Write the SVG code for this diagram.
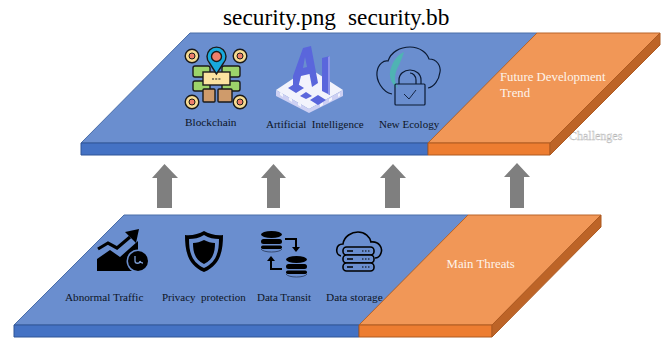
<svg xmlns="http://www.w3.org/2000/svg" width="664" height="340" viewBox="0 0 664 340">
<style>
text{font-family:"Liberation Serif","Times New Roman",serif}
.lab{font-size:11px;fill:#0d1526}
.wl{font-size:12.800px;fill:#fdf3ea}
.bt{fill:#6a8ecf;stroke:#4a6ea8;stroke-width:1}
.bf{fill:#4472c4;stroke:#2f5597;stroke-width:1}
.ot{fill:#f19757;stroke:#b9652a;stroke-width:1}
.of{fill:#ed7d31;stroke:#ae5a21;stroke-width:1}
.os{fill:#bd6427;stroke:#ae5a21;stroke-width:1}
.arr{fill:#7f7f7f}
.k{fill:#000}
.ln{fill:none;stroke:#0b1a33;stroke-width:1.2}
.kl{fill:none;stroke:#000;stroke-width:1.6}
.ic{stroke:#1a1a1a;stroke-width:1.4}
</style>
<rect width="664" height="340" fill="#fff"/>
<text x="223" y="24.500" font-size="23.300" fill="#000">security.png</text>
<text x="348" y="24.500" font-size="23.300" fill="#000">security.bb</text>

<g id="connectors">
<path class="arr" d="M164.500 164L178 178H172V208H157V178H152Z"/>
<path class="arr" d="M273.500 164L286 178H280V208H267V178H261Z"/>
<path class="arr" d="M393 164L406 178H400V208H385V178H380Z"/>
<path class="arr" d="M517 163L530 177H524V208H510V177H504Z"/>
</g>

<g id="top-plate">
<path class="bt" d="M81 143L190 33H537L428 143Z"/>
<path class="bf" d="M81 143H428V155H81Z"/>
<text x="569" y="139.500" font-size="12" fill="#efefef" stroke="#b5b5b5" stroke-width=".35">Challenges</text>
<path class="ot" d="M428 143L537 33H660L550 143Z"/>
<path class="of" d="M428 143H550V155H428Z"/>
<path class="os" d="M550 143L660 33V45L550 155Z"/>
<text class="wl" x="500" y="81">Future Development</text>
<text class="wl" x="500" y="97">Trend</text>
</g>

<g id="blockchain">
<g fill="#f7dc92" stroke="#1a1a1a" stroke-width="1.4">
<circle cx="192" cy="56" r="6.800"/><circle cx="240" cy="56" r="6.800"/><circle cx="192" cy="102" r="6.800"/><circle cx="240" cy="102" r="6.800"/>
</g>
<g fill="#ef7f6b" stroke="#1a1a1a" stroke-width="1">
<circle cx="192" cy="56" r="3"/><circle cx="240" cy="56" r="3"/><circle cx="192" cy="102" r="3"/><circle cx="240" cy="102" r="3"/>
</g>
<g fill="#9cd36a" class="ic">
<rect x="193" y="66" width="17" height="11" rx="2"/><rect x="222" y="66" width="18" height="11" rx="2"/>
<rect x="193" y="81" width="17" height="10" rx="2"/><rect x="222" y="81" width="18" height="10" rx="2"/>
</g>
<g fill="#cf9b6b" class="ic">
<rect x="203" y="89" width="12" height="13" rx="1"/><rect x="218" y="89" width="14" height="13" rx="1"/>
</g>
<rect x="203" y="72" width="27" height="13" fill="#fbe3a0" class="ic"/>
<path d="M212 79h9" stroke="#1a1a1a" stroke-width="1.200" stroke-dasharray="2 1.200"/>
<path d="M216.500 74L209.500 63A9.500 9.500 0 1 1 223.500 63Z" fill="#18a9dc" class="ic"/>
<circle cx="216.500" cy="56.500" r="5" fill="#ef7f6b" class="ic"/>
<text class="lab" x="185" y="126" style="font-size:11.300px">Blockchain</text>
</g>

<g id="artificial-intelligence">
<path d="M309 68L343 90L309 109L276 90Z" fill="#f2f3fc"/>
<path d="M276 90V96L309 113L343 96V90L309 109Z" fill="#cdd0f3"/>
<path d="M280 92l3 2v3l-3-2ZM289 97l3 2v3l-3-2ZM298 102l3 2v3l-3-2ZM320 104l3-2v3l-3 2ZM329 99l3-2v3l-3 2ZM338 94l2-1v3l-2 1Z" fill="#f2f3fc"/>
<path d="M288 88L296 83L304 88L296 93ZM310 100L318 95L326 100L318 105ZM300 96L306 92L312 96L306 99Z" fill="#5a66dc"/>
<path d="M293 76L303 48L311 46L318 83L312 87L309.500 74L301 76L298 88L293 85Z" fill="#5a66dc"/>
<path d="M303 68L307 67L305 57Z" fill="#6a8ecf"/>
<path d="M322 58L330 56V95L322 91Z" fill="#5a66dc"/>
<path d="M328 57L330 56V95L328 94Z" fill="#8d95e8"/>
<text class="lab" x="266" y="128" xml:space="preserve">Artificial  Intelligence</text>
</g>

<g id="new-ecology">
<path class="ln" d="M392 94C382 92 376 80 377 72C378 64 384 60 388 61C391 52 400 47 410 47C420 47 427 53 429 59C437 59 441 66 440 72C439 80 434 87 428 88"/>
<path d="M404 52C396 56 393 62 391 68C388 75 391 85 398 88C393 80 395 72 399 65C401 60 403 56 404 52Z" fill="#4fb3b3"/>
<path class="ln" d="M399 84V80C399 74 404 70 410 70C416 70 421 74 421 80V84"/>
<path class="ln" d="M416 84V80C416 76 413 73 410 73"/>
<rect class="ln" x="395" y="84" width="30" height="21" rx="1"/>
<path class="ln" d="M404 94L409 99L416 90" style="stroke-width:.9px"/>
<text class="lab" x="379" y="127.500">New Ecology</text>
</g>

<g id="bottom-plate">
<path class="bt" d="M14 325L124 215H468L359 325Z"/>
<path class="bf" d="M14 325H359V337H14Z"/>
<path class="ot" d="M359 325L468 215H601L492 325Z"/>
<path class="of" d="M359 325H492V337H359Z"/>
<path class="os" d="M492 325L601 215V227L492 337Z"/>
<text class="wl" x="446.500" y="268">Main Threats</text>
</g>

<g id="abnormal-traffic">
<path class="k" d="M97 271V259L110 250L120 257L138 241V252H139V271Z"/>
<path class="kl" style="stroke-width:3.200px" d="M98 249L108 243L117 248L130 237"/>
<path class="k" d="M125 232L139 229L136 243Z"/>
<circle cx="138" cy="261" r="11.500" fill="#6a8ecf"/>
<circle cx="138" cy="261" r="10" fill="#000"/>
<path d="M135 256V261C135 264 140 264 140 261M140 261A3 3 0 0 0 143 263" fill="none" stroke="#7d9ed6" stroke-width="1.300"/>
<text class="lab" x="65" y="300.500" style="font-size:11.200px">Abnormal Traffic</text>
</g>

<g id="privacy-protection">
<path class="k" d="M204 231C199 234 191 236 185 235C185 250 187 265 204 272C221 265 223 250 223 235C217 236 209 234 204 231Z"/>
<path d="M204 235C199 238 194 239 189 239C189 251 191 262 204 268C217 262 219 251 219 239C214 239 209 238 204 235Z" fill="#6a8ecf"/>
<path class="k" d="M204 240C200 242 197 243 193 243C193 252 195 260 204 264C213 260 215 252 215 243C211 243 208 242 204 240Z"/>
<text class="lab" x="162" y="300.500" xml:space="preserve">Privacy  protection</text>
</g>

<g id="data-transit">
<g class="k">
<ellipse cx="271.500" cy="234.500" rx="10.500" ry="3.500"/><rect x="261" y="239" width="21" height="5" rx="2.500"/><rect x="261" y="245.500" width="21" height="3.500" rx="1.700"/>
<ellipse cx="296.500" cy="259.500" rx="10.500" ry="3.500"/><rect x="286" y="264" width="21" height="5" rx="2.500"/><rect x="286" y="270.500" width="21" height="3.500" rx="1.700"/>
</g>
<path d="M261 249C263 253 280 253 282 249M286 274C288 278 305 278 307 274" fill="none" stroke="#2a3a5a" stroke-width=".8"/>
<path class="kl" style="stroke-width:2px" d="M285 239H296V248"/>
<path class="k" d="M292 247H300L296 252Z"/>
<path class="kl" style="stroke-width:2px" d="M282 269H271V260"/>
<path class="k" d="M267 261H275L271 256Z"/>
<text class="lab" x="257" y="300.500">Data Transit</text>
</g>

<g id="data-storage">
<path class="kl" d="M341 256C335 255 335 244 343 244C344 236 352 232 358 232C365 232 370 237 371 242C379 241 383 248 381 253C380 256 378 258 375 258"/>
<g fill="#6a8ecf" stroke="#000" stroke-width="1.600">
<rect x="343" y="247" width="31" height="8" rx="3.500"/><rect x="343" y="255" width="31" height="8" rx="3.500"/><rect x="343" y="263" width="31" height="8" rx="3.500"/>
</g>
<path d="M347 251h6M347 259h6M347 267h6" stroke="#000" stroke-width="1.400"/>
<path d="M362 251h8M362 259h8M362 267h8" stroke="#000" stroke-width="1.200" stroke-dasharray="1.500 1.500"/>
<text class="lab" x="326" y="300.500" style="font-size:11.300px">Data storage</text>
</g>
</svg>
